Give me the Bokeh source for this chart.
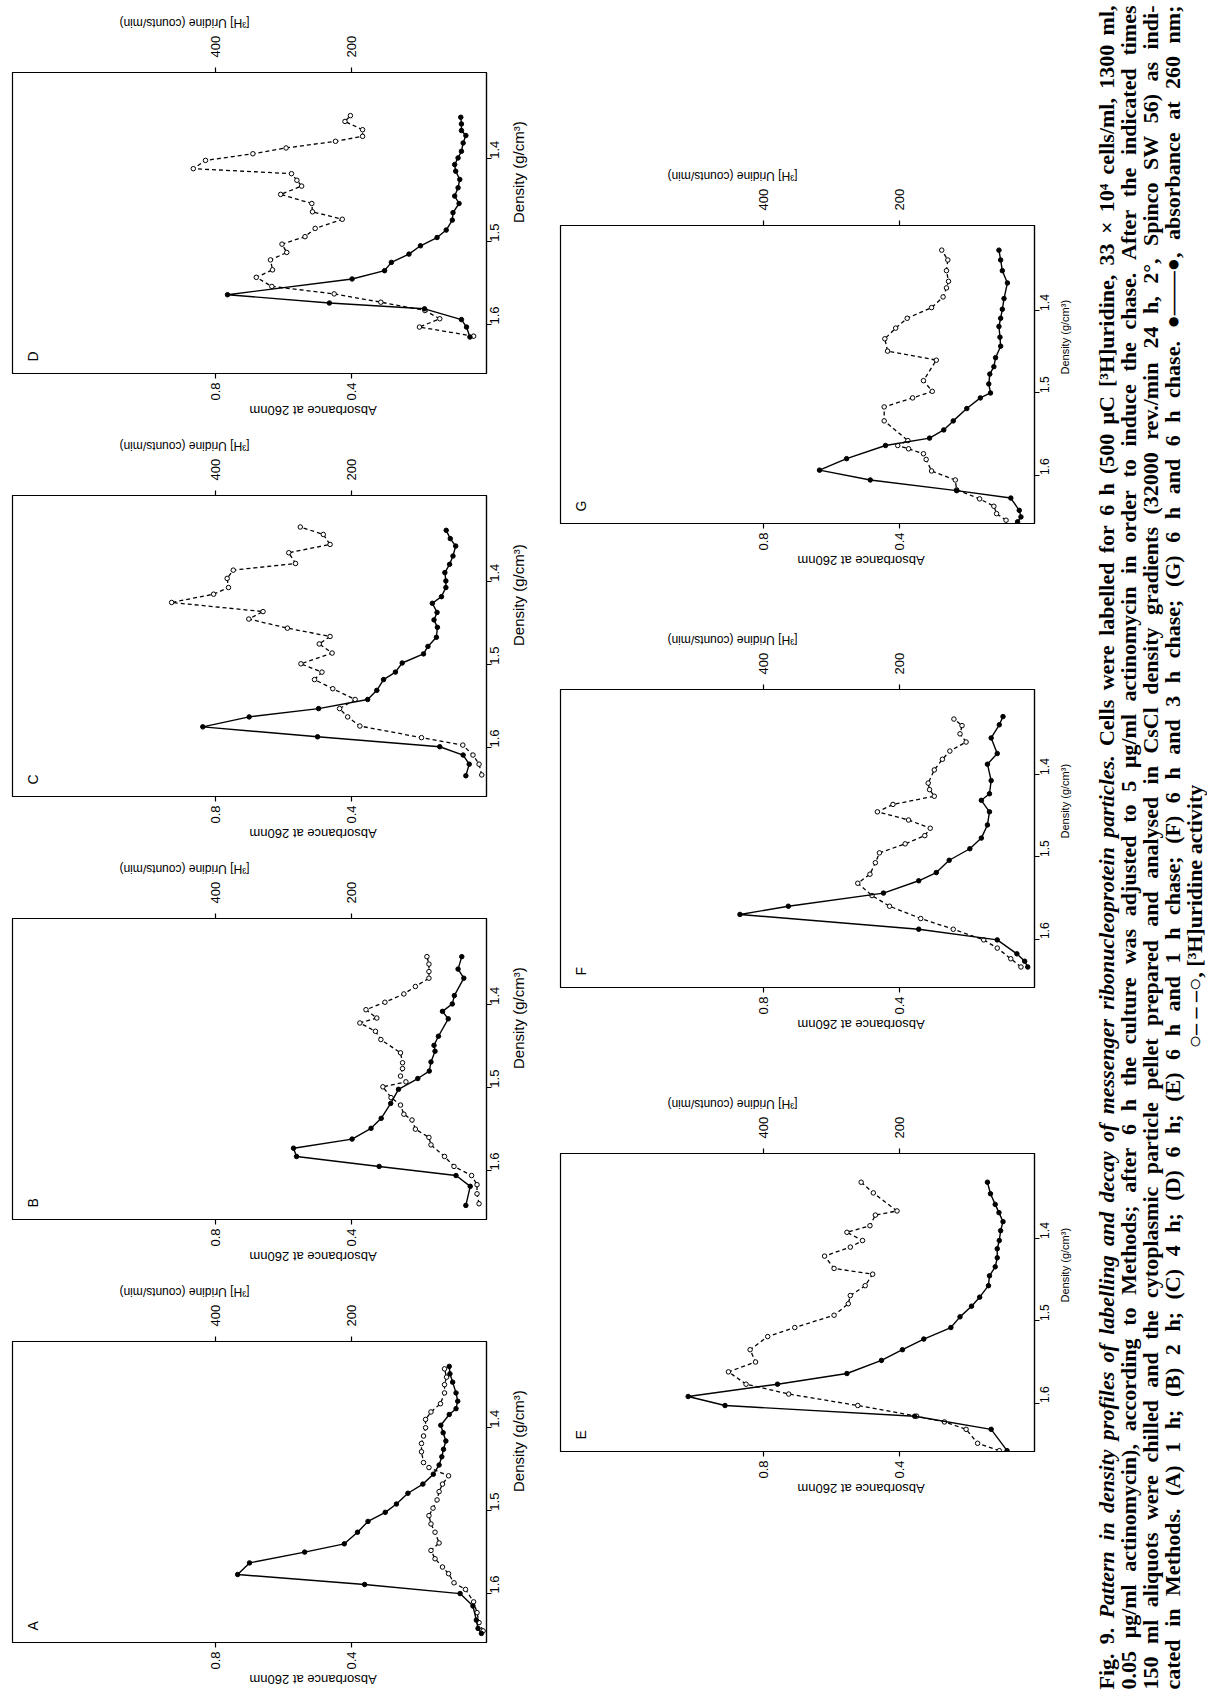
import math
from bokeh.plotting import figure
from bokeh.models import Range1d, LinearAxis, FixedTicker, Label, Spacer
from bokeh.layouts import row, column
from bokeh.embed import file_html
from bokeh.resources import INLINE

# ---------------- data (density in g/cm3, absorbance at 260 nm, uridine counts/min) ----------------
A_abs_density = [1.648, 1.642, 1.632, 1.615, 1.600, 1.589, 1.577, 1.563, 1.550, 1.540, 1.526, 1.513, 1.502, 1.492, 1.479,
                 1.468, 1.456, 1.445, 1.435, 1.426, 1.416, 1.406, 1.397, 1.384, 1.377, 1.368, 1.358, 1.345, 1.335, 1.326]
A_absorbance = [0.015, 0.025, 0.03, 0.04, 0.078, 0.36, 0.735, 0.70, 0.537, 0.42, 0.381, 0.35, 0.299, 0.266, 0.232,
                0.188, 0.157, 0.14, 0.132, 0.127, 0.12, 0.128, 0.135, 0.11, 0.09, 0.085, 0.09, 0.1, 0.108, 0.11]
A_uri_density = [1.645, 1.635, 1.623, 1.610, 1.595, 1.587, 1.576, 1.568, 1.558, 1.548, 1.539, 1.526, 1.516, 1.506, 1.497, 1.487,
                 1.477, 1.468, 1.458, 1.448, 1.442, 1.429, 1.419, 1.410, 1.400, 1.390, 1.381, 1.371, 1.358, 1.348, 1.339, 1.329]
A_uridine = [5, 11, 14, 19, 31, 48, 56, 65, 76, 82, 70, 76, 82, 85, 79, 73,
             70, 65, 56, 85, 93, 96, 96, 93, 90, 90, 82, 68, 62, 62, 59, 62]

B_abs_density = [1.642, 1.619, 1.606, 1.595, 1.583, 1.573, 1.562, 1.549, 1.537, 1.519, 1.502, 1.489,
                 1.480, 1.469, 1.456, 1.449, 1.438, 1.417, 1.408, 1.399, 1.389, 1.368, 1.357, 1.342]
B_absorbance = [0.061, 0.048, 0.090, 0.317, 0.561, 0.570, 0.397, 0.341, 0.311, 0.283, 0.260, 0.203,
                0.169, 0.164, 0.152, 0.155, 0.142, 0.113, 0.130, 0.101, 0.095, 0.067, 0.084, 0.073]
B_uri_density = [1.640, 1.628, 1.617, 1.606, 1.595, 1.583, 1.569, 1.560, 1.550, 1.539, 1.532, 1.521, 1.512, 1.499, 1.493, 1.486,
                 1.477, 1.470, 1.458, 1.442, 1.432, 1.422, 1.416, 1.406, 1.397, 1.387, 1.378, 1.368, 1.360, 1.351, 1.342]
B_uridine = [11, 14, 14, 22, 48, 62, 82, 85, 105, 110, 122, 127, 141, 153, 119, 127,
             124, 124, 127, 156, 164, 187, 162, 178, 150, 122, 105, 85, 85, 85, 88]

C_abs_density = [1.634, 1.620, 1.609, 1.599, 1.587, 1.575, 1.563, 1.553, 1.542, 1.531, 1.518, 1.509, 1.498, 1.487, 1.478,
                 1.467, 1.455, 1.446, 1.437, 1.426, 1.418, 1.407, 1.399, 1.389, 1.379, 1.369, 1.357, 1.348, 1.338]
C_absorbance = [0.061, 0.051, 0.069, 0.138, 0.499, 0.838, 0.701, 0.496, 0.351, 0.324, 0.304, 0.269, 0.249, 0.186, 0.173,
                0.148, 0.145, 0.155, 0.146, 0.160, 0.133, 0.120, 0.120, 0.123, 0.109, 0.099, 0.091, 0.107, 0.119]
C_uri_density = [1.633, 1.620, 1.609, 1.597, 1.588, 1.574, 1.563, 1.553, 1.542, 1.529, 1.518, 1.509, 1.499, 1.486, 1.475,
                 1.466, 1.456, 1.445, 1.436, 1.425, 1.415, 1.407, 1.396, 1.386, 1.378, 1.365, 1.355, 1.343, 1.334]
C_uridine = [7, 11, 20, 35, 96, 187, 205, 217, 194, 227, 254, 243, 274, 228, 247,
             231, 294, 351, 330, 465, 403, 381, 383, 374, 282, 292, 231, 241, 275]

D_abs_density = [1.615, 1.603, 1.594, 1.581, 1.574, 1.564, 1.545, 1.535, 1.525, 1.515, 1.505, 1.495, 1.486, 1.474,
                 1.465, 1.454, 1.445, 1.435, 1.425, 1.415, 1.407, 1.399, 1.391, 1.381, 1.372, 1.366, 1.358, 1.350]
D_absorbance = [0.049, 0.059, 0.074, 0.183, 0.464, 0.765, 0.397, 0.301, 0.281, 0.229, 0.195, 0.146, 0.119, 0.101,
                0.099, 0.081, 0.094, 0.084, 0.079, 0.091, 0.094, 0.084, 0.074, 0.069, 0.061, 0.074, 0.074, 0.076]
D_uri_density = [1.614, 1.603, 1.593, 1.583, 1.573, 1.563, 1.554, 1.543, 1.534, 1.522, 1.513, 1.503, 1.494, 1.484, 1.473,
                 1.464, 1.454, 1.443, 1.433, 1.426, 1.418, 1.412, 1.402, 1.394, 1.387, 1.379, 1.373, 1.365, 1.355, 1.348]
D_uridine = [19, 99, 69, 91, 156, 225, 317, 340, 316, 319, 295, 302, 268, 253, 213,
             257, 258, 304, 273, 280, 288, 433, 415, 345, 296, 223, 183, 183, 209, 201]

E_abs_density = [1.658, 1.632, 1.616, 1.603, 1.592, 1.577, 1.564, 1.548, 1.535, 1.522, 1.508, 1.495, 1.482,
                 1.471, 1.457, 1.445, 1.434, 1.423, 1.412, 1.402, 1.390, 1.379, 1.368, 1.358, 1.345, 1.331]
E_absorbance = [0.081, 0.128, 0.354, 0.914, 1.023, 0.759, 0.554, 0.452, 0.39, 0.327, 0.247, 0.220, 0.186,
                0.162, 0.136, 0.133, 0.116, 0.110, 0.110, 0.104, 0.10, 0.093, 0.105, 0.116, 0.130, 0.139]
E_uri_density = [1.658, 1.649, 1.632, 1.623, 1.616, 1.603, 1.589, 1.577, 1.562, 1.550, 1.535, 1.519, 1.508, 1.493,
                 1.479, 1.469, 1.457, 1.443, 1.436, 1.421, 1.410, 1.402, 1.392, 1.384, 1.371, 1.366, 1.344, 1.331]
E_uridine = [52, 84, 101, 133, 174, 261, 363, 426, 452, 412, 420, 394, 354, 296,
             275, 272, 250, 239, 296, 310, 272, 254, 277, 243, 235, 203, 238, 256]

F_abs_density = [1.634, 1.627, 1.618, 1.601, 1.588, 1.570, 1.560, 1.544, 1.529, 1.519, 1.504, 1.490,
                 1.477, 1.461, 1.445, 1.431, 1.423, 1.407, 1.387, 1.374, 1.355, 1.339, 1.329]
F_absorbance = [0.02, 0.029, 0.052, 0.11, 0.342, 0.87, 0.727, 0.446, 0.342, 0.29, 0.252, 0.191,
                0.157, 0.139, 0.133, 0.157, 0.133, 0.128, 0.139, 0.110, 0.128, 0.104, 0.093]
F_uri_density = [1.634, 1.624, 1.611, 1.601, 1.588, 1.575, 1.560, 1.547, 1.532, 1.521, 1.507, 1.495, 1.484, 1.474,
                 1.465, 1.455, 1.445, 1.436, 1.426, 1.418, 1.410, 1.394, 1.381, 1.371, 1.360, 1.350, 1.340, 1.332]
F_uridine = [20, 35, 55, 75, 120, 168, 214, 240, 261, 243, 235, 229, 191, 162,
             154, 186, 232, 209, 148, 155, 157, 148, 136, 125, 101, 110, 107, 119]

G_abs_density = [1.657, 1.651, 1.643, 1.628, 1.619, 1.606, 1.594, 1.580, 1.564, 1.555, 1.545, 1.534, 1.519, 1.506, 1.500,
                 1.489, 1.477, 1.468, 1.457, 1.443, 1.432, 1.419, 1.409, 1.398, 1.385, 1.366, 1.351, 1.338, 1.326]
G_absorbance = [0.05, 0.04, 0.045, 0.07, 0.23, 0.485, 0.635, 0.555, 0.44, 0.31, 0.268, 0.24, 0.20, 0.16, 0.13,
                0.135, 0.132, 0.12, 0.115, 0.10, 0.102, 0.105, 0.10, 0.095, 0.09, 0.08, 0.095, 0.10, 0.105]
G_uri_density = [1.655, 1.647, 1.638, 1.629, 1.618, 1.606, 1.595, 1.581, 1.574, 1.568, 1.564, 1.558, 1.534, 1.517, 1.506,
                 1.498, 1.485, 1.460, 1.449, 1.434, 1.421, 1.409, 1.396, 1.383, 1.372, 1.364, 1.351, 1.338, 1.326]
G_uridine = [42, 56, 60, 81, 115, 117, 152, 160, 164, 186, 202, 187, 222, 222, 180,
             151, 164, 145, 217, 221, 205, 188, 152, 135, 130, 127, 130, 128, 137]

abs_ticks = [0.4, 0.8]
uri_ticks = [200, 400]
dens_ticks = [1.4, 1.5, 1.6]
abs_label = "Absorbance at 260nm"
uri_label = "[³H] Uridine (counts/min)"
dens_label = "Density (g/cm³)"

caption_fig = "Fig. 9."
caption_title = "Pattern in density profiles of labelling and decay of messenger ribonucleoprotein particles."
caption_lines = [
    "Cells were labelled for 6 h (500 μC [³H]uridine, 33 × 10⁴ cells/ml, 1300 ml,",
    "0.05 μg/ml actinomycin), according to Methods; after 6 h the culture was adjusted to 5 μg/ml actinomycin in order to induce the chase. After the indicated times",
    "150 ml aliquots were chilled and the cytoplasmic particle pellet prepared and analysed in CsCl density gradients (32000 rev./min 24 h, 2°, Spinco SW 56) as indi-",
    "cated in Methods. (A) 1 h; (B) 2 h; (C) 4 h; (D) 6 h; (E) 6 h and 1 h chase; (F) 6 h and 3 h chase; (G) 6 h and 6 h chase. ●——●, absorbance at 260 nm;",
    "○– – –○, [³H]uridine activity",
]

# ---------------- styling / layout ----------------
ABS_MAX = 1.40
URI_MAX = 700.0
DENS_TOP = 1.296
DENS_BOTTOM = 1.659
SANS = "Liberation Sans"
HAS_ALO = "axis_label_orientation" in LinearAxis.properties()


def style_axis(ax, tick_fs, label_fs, label_angle, major_standoff, label_standoff):
    ax.major_tick_in = 0
    ax.major_tick_out = 5
    ax.minor_tick_line_color = None
    ax.minor_tick_in = 0
    ax.minor_tick_out = 0
    ax.axis_line_color = "black"
    ax.axis_line_width = 1.2
    ax.major_tick_line_color = "black"
    ax.major_tick_line_width = 1.2
    ax.major_label_text_font = SANS
    ax.major_label_text_font_size = f"{tick_fs}px"
    ax.major_label_text_color = "black"
    ax.major_label_orientation = math.pi / 2
    ax.major_label_standoff = major_standoff
    ax.axis_label_text_font = SANS
    ax.axis_label_text_font_size = f"{label_fs}px"
    ax.axis_label_text_font_style = "normal"
    ax.axis_label_text_color = "black"
    ax.axis_label_standoff = label_standoff
    if HAS_ALO:
        ax.axis_label_orientation = label_angle


def make_panel(letter, d_abs, v_abs, d_uri, v_uri, width, height, bl, br, bt, bb,
               dens_fs, dens_label_fs, dens_standoff, dens_label_standoff):
    p = figure(width=width, height=height, output_backend="svg", toolbar_location=None,
               x_range=Range1d(ABS_MAX, 0.0), y_range=Range1d(DENS_BOTTOM, DENS_TOP),
               x_axis_location=None, y_axis_location=None,
               min_border_left=bl, min_border_right=br, min_border_top=bt, min_border_bottom=bb)
    p.extra_x_ranges = {"uri": Range1d(URI_MAX, 0.0)}
    p.grid.visible = False
    p.outline_line_color = "black"
    p.outline_line_width = 1.2
    p.background_fill_color = "white"
    p.border_fill_color = "white"

    ax_abs = LinearAxis(ticker=FixedTicker(ticks=abs_ticks), axis_label=abs_label)
    style_axis(ax_abs, 13, 13, math.pi, 4, 7)
    p.add_layout(ax_abs, "below")

    ax_uri = LinearAxis(x_range_name="uri", ticker=FixedTicker(ticks=uri_ticks), axis_label=uri_label)
    style_axis(ax_uri, 13, 12, math.pi, 10, 10)
    p.add_layout(ax_uri, "above")

    ax_d = LinearAxis(ticker=FixedTicker(ticks=dens_ticks), axis_label=dens_label)
    style_axis(ax_d, dens_fs, dens_label_fs, math.pi / 2, dens_standoff, dens_label_standoff)
    p.add_layout(ax_d, "right")

    p.line(v_uri, d_uri, x_range_name="uri", line_color="black", line_width=1.3, line_dash="4 3")
    p.scatter(v_uri, d_uri, x_range_name="uri", marker="circle", size=4.5,
              fill_color="white", line_color="black", line_width=1.0)
    p.line(v_abs, d_abs, line_color="black", line_width=1.4)
    p.scatter(v_abs, d_abs, marker="circle", size=4.5, fill_color="black", line_color="black")

    p.add_layout(Label(x=ABS_MAX, y=DENS_BOTTOM, x_offset=20, y_offset=12, text=letter,
                       angle=math.pi / 2, text_font=SANS, text_font_size="14px",
                       text_baseline="middle", text_align="left", text_color="black"))
    return p


LW, LBL, LBR, LBT, LBB = 546, 12, 60, 64, 55
LH = LBT + 304 + LBB
RW, RBL, RBR, RBT, RBB = 534, 14, 46, 64, 99
RH = RBT + 301 + RBB

left_args = (LW, LH, LBL, LBR, LBT, LBB, 13, 15, 3, 12)
right_args = (RW, RH, RBL, RBR, RBT, RBB, 12, 11, 5, 8)

pD = make_panel("D", D_abs_density, D_absorbance, D_uri_density, D_uridine, *left_args)
pC = make_panel("C", C_abs_density, C_absorbance, C_uri_density, C_uridine, *left_args)
pB = make_panel("B", B_abs_density, B_absorbance, B_uri_density, B_uridine, *left_args)
pA = make_panel("A", A_abs_density, A_absorbance, A_uri_density, A_uridine, *left_args)

pG = make_panel("G", G_abs_density, G_absorbance, G_uri_density, G_uridine, *right_args)
pF = make_panel("F", F_abs_density, F_absorbance, F_uri_density, F_uridine, *right_args)
pE = make_panel("E", E_abs_density, E_absorbance, E_uri_density, E_uridine, *right_args)

# ---------------- caption (rotated, reading bottom to top, justified) ----------------
CAP_W, CAP_H = 1207 - LW - RW, 1697
CAP_FS = 22
SERIF = "Liberation Serif"

_TB = {'a': .500, 'b': .556, 'c': .444, 'd': .556, 'e': .444, 'f': .333, 'g': .500, 'h': .556, 'i': .278,
       'j': .333, 'k': .556, 'l': .278, 'm': .833, 'n': .556, 'o': .500, 'p': .556, 'q': .556, 'r': .444,
       's': .389, 't': .333, 'u': .556, 'v': .500, 'w': .722, 'x': .500, 'y': .500, 'z': .444,
       'A': .722, 'B': .667, 'C': .722, 'D': .722, 'E': .667, 'F': .611, 'G': .778, 'H': .778, 'I': .389,
       'M': .944, 'P': .611, 'R': .722, 'S': .556, 'W': 1.0,
       '.': .25, ',': .25, ';': .333, ':': .333, '(': .333, ')': .333, '[': .333, ']': .333, '/': .278,
       '-': .333, '×': .570, 'μ': .556, '°': .4, '³': .3, '⁴': .3, '●': .6, '○': .6, '—': 1.0, '–': .5}
_TBI = dict(_TB)
_TBI.update({'b': .5, 'd': .5, 'k': .5, 'm': .778, 'p': .5, 'q': .5, 'r': .389, 't': .278, 'v': .444,
             'w': .667, 'y': .444, 'z': .389, 'P': .667, 'j': .278})


def text_w(s, fs, italic=False):
    tab = _TBI if italic else _TB
    tot = 0.0
    for c in s:
        if c in tab:
            tot += tab[c]
        elif c.isdigit():
            tot += 0.5
        elif c.isupper():
            tot += 0.72
        else:
            tot += 0.55
    return tot * fs


cap = figure(width=CAP_W, height=CAP_H, output_backend="svg", toolbar_location=None,
             x_range=Range1d(0, CAP_W), y_range=Range1d(0, CAP_H),
             x_axis_location=None, y_axis_location=None, min_border=0)
cap.grid.visible = False
cap.outline_line_color = None
cap.background_fill_color = "white"
cap.border_fill_color = "white"

line_x = [26, 48, 70, 92, 114]
Y_START, Y_END = 8, 1692


def cap_label(x, y, text, style="bold", align="left"):
    cap.add_layout(Label(x=x, y=y, text=text, angle=math.pi / 2, text_font=SERIF,
                         text_font_size=f"{CAP_FS}px", text_font_style=style,
                         text_align=align, text_baseline="middle", text_color="black"))


def justified(x, words):
    # words: list of (text, italic)
    widths = [text_w(w, CAP_FS, it) for w, it in words]
    gap = (Y_END - Y_START - sum(widths)) / (len(words) - 1)
    y = Y_START
    for (w, it), wd in zip(words, widths):
        cap_label(x, y, w, style="bold italic" if it else "bold")
        y += wd + gap


line1 = [(w, False) for w in caption_fig.split()] + \
        [(w, True) for w in caption_title.split()] + \
        [(w, False) for w in caption_lines[0].split()]
justified(line_x[0], line1)
for i in range(1, 4):
    justified(line_x[i], [(w, False) for w in caption_lines[i].split()])
cap_label(line_x[4], 781, caption_lines[4], align="center")

left = column(Spacer(width=LW, height=5), pD, pC, pB, pA)
right = column(Spacer(width=RW, height=158), pG, pF, pE)
layout = row(left, right, cap)

open("out.html", "w").write(file_html(layout, INLINE))
